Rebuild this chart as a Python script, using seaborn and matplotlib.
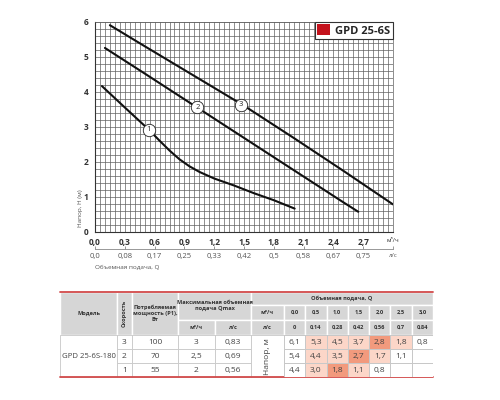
import numpy as np
import pandas as pd
import matplotlib
matplotlib.use("Agg")
import matplotlib.pyplot as plt
from matplotlib.patches import Patch, Rectangle
from matplotlib.colors import ListedColormap
import seaborn as sns

# ---------------- data ----------------
curve1_q = [0.07, 0.30, 0.54, 0.65, 0.75, 0.85, 0.95, 1.05, 1.20, 1.40, 1.60, 1.80, 2.01]
curve1_h = [4.16, 3.55, 2.92, 2.60, 2.32, 2.07, 1.87, 1.71, 1.52, 1.32, 1.10, 0.90, 0.66]
curve2_q = [0.10, 0.50, 1.00, 1.50, 2.00, 2.50, 2.65]
curve2_h = [5.25, 4.52, 3.60, 2.68, 1.76, 0.84, 0.57]
curve3_q = [0.15, 0.50, 1.00, 1.50, 2.00, 2.50, 3.00]
curve3_h = [5.90, 5.30, 4.45, 3.60, 2.68, 1.74, 0.78]
curve_names = ["1", "2", "3"]
label_q = [0.54, 1.03, 1.47]
label_h = [2.92, 3.56, 3.63]

x_ticks = [0.0, 0.3, 0.6, 0.9, 1.2, 1.5, 1.8, 2.1, 2.4, 2.7]
x_ls_labels = ["0,0", "0,08", "0,17", "0,25", "0,33", "0,42", "0,5", "0,58", "0,67", "0,75"]
y_ticks = [0, 1, 2, 3, 4, 5, 6]
legend_label = "GPD 25-6S"

model_name = "GPD 25-6S-180"
speeds = [3, 2, 1]
power_w = [100, 70, 55]
qmax_m3h = ["3", "2,5", "2"]
qmax_ls = ["0,83", "0,69", "0,56"]
q_m3h = ["0,0", "0,5", "1,0", "1,5", "2,0", "2,5", "3,0"]
q_ls = ["0", "0,14", "0,28", "0,42", "0,56", "0,7", "0,84"]
head_values = [
    ["6,1", "5,3", "4,5", "3,7", "2,8", "1,8", "0,8"],
    ["5,4", "4,4", "3,5", "2,7", "1,7", "1,1", ""],
    ["4,4", "3,0", "1,8", "1,1", "0,8", "", ""],
]
highlight = [
    [0, 1, 1, 1, 2, 1, 0],
    [0, 1, 1, 2, 1, 0, 0],
    [0, 1, 2, 1, 0, 0, 0],
]

# ---------------- style ----------------
sns.set_style("white")
plt.rcParams["font.family"] = ["Open Sans", "DejaVu Sans"]

W, H = 500, 400
fig = plt.figure(figsize=(5, 4), dpi=100)

def fx(px):
    return px / W

def fy(py):
    return 1 - py / H

# full-figure axes for the table (pixel coords)
tax = fig.add_axes([0, 0, 1, 1], zorder=0)
tax.set_xlim(0, W)
tax.set_ylim(H, 0)
tax.axis("off")

# ---------------- chart ----------------
ax_l, ax_r, ax_t, ax_b = 95, 393, 21.7, 231.7
ax = fig.add_axes([fx(ax_l), fy(ax_b), fx(ax_r - ax_l), (ax_b - ax_t) / H], zorder=2)

df = pd.concat([
    pd.DataFrame({"Q": curve1_q, "H": curve1_h, "speed": curve_names[0]}),
    pd.DataFrame({"Q": curve2_q, "H": curve2_h, "speed": curve_names[1]}),
    pd.DataFrame({"Q": curve3_q, "H": curve3_h, "speed": curve_names[2]}),
])
sns.lineplot(data=df, x="Q", y="H", hue="speed", palette=["#111111"] * 3,
             linewidth=1.5, sort=False, legend=False, ax=ax, zorder=3)

ax.scatter(label_q, label_h, s=80, facecolor="white", edgecolor="#222222",
           linewidth=0.6, zorder=4)
for q, h, n in zip(label_q, label_h, curve_names):
    ax.text(q, h, n, ha="center", va="center", fontsize=5.5, color="#222222", zorder=5)

ax.set_xlim(0, 3.0)
ax.set_ylim(0, 6)
ax.set_xticks(np.arange(0, 3.0001, 0.05), minor=True)
ax.set_yticks(np.arange(0, 6.0001, 0.2), minor=True)
ax.set_xticks(x_ticks + [3.0])
ax.set_xticklabels([f"{v:.1f}".replace(".", ",") for v in x_ticks] + ["м³/ч"])
ax.set_yticks(y_ticks)
ax.set_yticklabels([str(v) for v in y_ticks])
ax.grid(which="both", color="#606060", linewidth=0.5)
ax.set_axisbelow(True)
ax.set_xlabel("")
ax.set_ylabel("")
for s in ["top", "right"]:
    ax.spines[s].set_color("#606060")
    ax.spines[s].set_linewidth(0.5)
for s in ["left", "bottom"]:
    ax.spines[s].set_color("#333333")
    ax.spines[s].set_linewidth(0.8)
ax.tick_params(axis="both", which="major", length=2.5, width=0.6, color="#333333",
               labelsize=6, labelcolor="#333333", pad=2)
ax.tick_params(axis="both", which="minor", length=0)
for t in ax.get_xticklabels() + ax.get_yticklabels():
    t.set_fontweight("bold")
ax.get_xticklabels()[-1].set_fontweight("normal")
ax.get_xticklabels()[-1].set_fontsize(4.5)

sec = ax.secondary_xaxis(-0.082)
sec.set_xticks(x_ticks + [3.0])
sec.set_xticklabels(x_ls_labels + ["л/с"])
sec.spines["bottom"].set_color("#888888")
sec.spines["bottom"].set_linewidth(0.6)
sec.tick_params(axis="x", direction="in", length=2.5, width=0.6, color="#888888",
                labelsize=5.5, labelcolor="#555555", pad=3)
sec.get_xticklabels()[-1].set_fontsize(4.5)

leg = ax.legend(handles=[Patch(facecolor="#c4121c", edgecolor="none", label=legend_label)],
                loc="upper right", bbox_to_anchor=(1.0, 1.0), borderaxespad=0,
                frameon=True, fancybox=False, framealpha=1, edgecolor="#333333",
                handlelength=1.1, handleheight=1.1, handletextpad=0.5, borderpad=0.25,
                prop={"weight": "bold", "size": 8})
leg.get_frame().set_linewidth(0.8)
leg.set_zorder(10)

fig.text(fx(80.5), fy(208), "Напор, Н (м)", rotation=90, ha="center", va="center",
         fontsize=4.6, color="#555555")
fig.text(fx(95), fy(267), "Объемная подача, Q", ha="left", va="center",
         fontsize=4.6, color="#555555")

# ---------------- table ----------------
hdr = "#d6d6d6"
red = "#d24a4a"
txt = "#333333"
grid_c = "#c8c8c8"

x0, xm, xs, xp, xq1, xq2, xh, xv0, xend = 60, 117, 132, 178, 215, 251, 284, 284, 433
y_top, y_r1, y_r2, y_hdr, y_end = 291.7, 305, 320, 335, 377.3
row_h = (y_end - y_hdr) / 3
vcol_w = (xend - xv0) / 7

def rect(xa, ya, xb, yb, fc, ec="white", lw=1.0):
    tax.add_patch(Rectangle((xa, ya), xb - xa, yb - ya, facecolor=fc, edgecolor=ec, linewidth=lw))

def ctext(xa, ya, xb, yb, s, **kw):
    tax.text((xa + xb) / 2, (ya + yb) / 2, s, ha="center", va="center", color=txt, **kw)

hb = dict(fontsize=4.1, fontweight="bold", linespacing=1.3)
# header cells
rect(x0, y_top, xm, y_hdr, hdr); ctext(x0, y_top, xm, y_hdr, "Модель", **hb)
rect(xm, y_top, xs, y_hdr, hdr); ctext(xm, y_top, xs, y_hdr, "Скорость", rotation=90, **hb)
rect(xs, y_top, xp, y_hdr, hdr)
ctext(xs, y_top, xp, y_hdr, "Потребляемая\nмощность (P1),\nВт", **hb)
rect(xp, y_top, xq2, y_r2, hdr)
ctext(xp, y_top, xq2, y_r2, "Максимальная объемная\nподача Qmax", **hb)
rect(xp, y_r2, xq1, y_hdr, hdr); ctext(xp, y_r2, xq1, y_hdr, "м³/ч", **hb)
rect(xq1, y_r2, xq2, y_hdr, hdr); ctext(xq1, y_r2, xq2, y_hdr, "л/с", **hb)
rect(xq2, y_top, xend, y_r1, hdr); ctext(xq2, y_top, xend, y_r1, "Объемная подача, Q", **hb)
rect(xq2, y_r1, xh, y_r2, hdr); ctext(xq2, y_r1, xh, y_r2, "м³/ч", **hb)
rect(xq2, y_r2, xh, y_hdr, hdr); ctext(xq2, y_r2, xh, y_hdr, "л/с", **hb)
for i, (a, b) in enumerate(zip(q_m3h, q_ls)):
    xa = xv0 + i * vcol_w
    rect(xa, y_r1, xa + vcol_w, y_r2, hdr); ctext(xa, y_r1, xa + vcol_w, y_r2, a, **hb)
    rect(xa, y_r2, xa + vcol_w, y_hdr, hdr); ctext(xa, y_r2, xa + vcol_w, y_hdr, b, **hb)

# body left part
body = dict(fontsize=6, color="#444444")
rect(x0, y_hdr, xm, y_end, "white", grid_c, 0.6)
tax.text((x0 + xm) / 2, (y_hdr + y_end) / 2, model_name, ha="center", va="center",
         fontsize=5.6, color="#444444")
for r in range(3):
    ya, yb = y_hdr + r * row_h, y_hdr + (r + 1) * row_h
    for (xa, xb, s) in [(xm, xs, str(speeds[r])), (xs, xp, str(power_w[r])),
                        (xp, xq1, qmax_m3h[r]), (xq1, xq2, qmax_ls[r])]:
        rect(xa, ya, xb, yb, "white", grid_c, 0.6)
        tax.text((xa + xb) / 2, (ya + yb) / 2, s, ha="center", va="center", **body)
rect(xq2, y_hdr, xh, y_end, "white", grid_c, 0.6)
tax.text((xq2 + xh) / 2, (y_hdr + y_end) / 2, "Напор, м", rotation=90, ha="center",
         va="center", fontsize=6, color="#444444")

# heat cells
hax = fig.add_axes([fx(xv0), fy(y_end), fx(xend - xv0), (y_end - y_hdr) / H], zorder=3)
sns.heatmap(np.array(highlight), annot=np.array(head_values), fmt="",
            cmap=ListedColormap(["#ffffff", "#fcd6c8", "#f29a7d"]), vmin=-0.5, vmax=2.5,
            cbar=False, linewidths=0.6, linecolor=grid_c, xticklabels=False,
            yticklabels=False, annot_kws={"fontsize": 6, "color": "#444444"}, ax=hax)
hax.tick_params(length=0)

# red rules
tax.plot([x0, xend], [y_top, y_top], color=red, linewidth=1.3)
tax.plot([x0, xend], [y_end, y_end], color=red, linewidth=1.3)
tax.set_xlim(0, W)
tax.set_ylim(H, 0)

fig.savefig("out.png", dpi=100)
